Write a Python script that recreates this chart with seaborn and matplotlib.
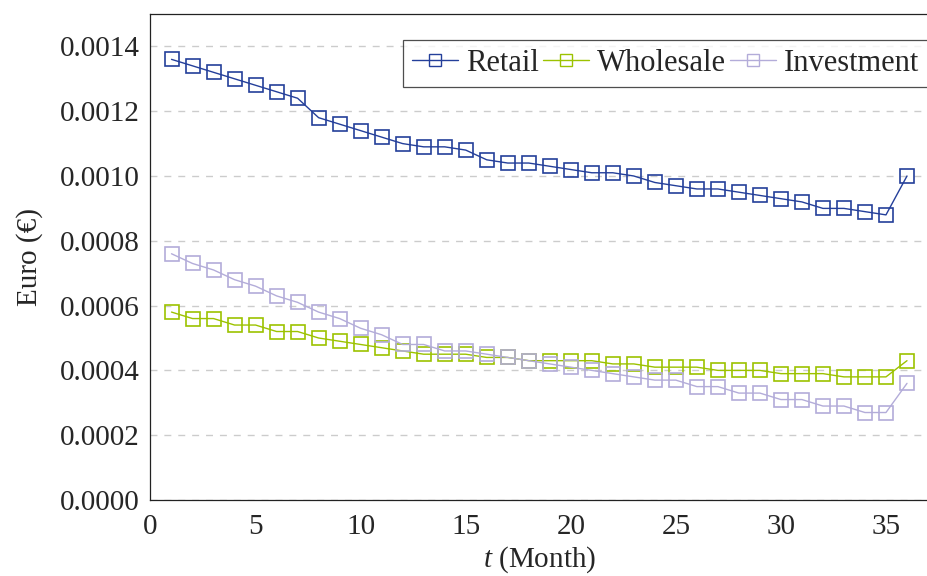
import numpy as np
import pandas as pd
import matplotlib
matplotlib.use("Agg")
import matplotlib.pyplot as plt
import seaborn as sns
from matplotlib.lines import Line2D

months = list(range(1, 37))
retail = [0.00136, 0.00134, 0.00132, 0.00130, 0.00128, 0.00126, 0.00124, 0.00118,
          0.00116, 0.00114, 0.00112, 0.00110, 0.00109, 0.00109, 0.00108, 0.00105,
          0.00104, 0.00104, 0.00103, 0.00102, 0.00101, 0.00101, 0.00100, 0.00098,
          0.00097, 0.00096, 0.00096, 0.00095, 0.00094, 0.00093, 0.00092, 0.00090,
          0.00090, 0.00089, 0.00088, 0.00100]
wholesale = [0.00058, 0.00056, 0.00056, 0.00054, 0.00054, 0.00052, 0.00052, 0.00050,
             0.00049, 0.00048, 0.00047, 0.00046, 0.00045, 0.00045, 0.00045, 0.00044,
             0.00044, 0.00043, 0.00043, 0.00043, 0.00043, 0.00042, 0.00042, 0.00041,
             0.00041, 0.00041, 0.00040, 0.00040, 0.00040, 0.00039, 0.00039, 0.00039,
             0.00038, 0.00038, 0.00038, 0.00043]
investment = [0.00076, 0.00073, 0.00071, 0.00068, 0.00066, 0.00063, 0.00061, 0.00058,
              0.00056, 0.00053, 0.00051, 0.00048, 0.00048, 0.00046, 0.00046, 0.00045,
              0.00044, 0.00043, 0.00042, 0.00041, 0.00040, 0.00039, 0.00038, 0.00037,
              0.00037, 0.00035, 0.00035, 0.00033, 0.00033, 0.00031, 0.00031, 0.00029,
              0.00029, 0.00027, 0.00027, 0.00036]
series_names = ["Retail", "Wholesale", "Investment"]
colors = ["#243f9a", "#9cc200", "#b3acd9"]
x_ticks = [0, 5, 10, 15, 20, 25, 30, 35]
y_ticks = [0.0, 0.0002, 0.0004, 0.0006, 0.0008, 0.0010, 0.0012, 0.0014]

df = pd.DataFrame({"t": months * 3,
                   "value": retail + wholesale + investment,
                   "series": sum([[n] * len(months) for n in series_names], [])})

sns.set_style("white")
plt.rcParams["font.family"] = ["Liberation Serif", "DejaVu Serif"]
plt.rcParams["mathtext.fontset"] = "custom"
plt.rcParams["mathtext.it"] = "Liberation Serif:italic"
plt.rcParams["mathtext.rm"] = "Liberation Serif"

FS = 21

fig = plt.figure(figsize=(9.28, 5.76), dpi=100)
ax = fig.add_axes([150.5 / 928, 1 - 500 / 576, (928 - 150.5) / 928, (500 - 14) / 576])

sns.lineplot(data=df, x="t", y="value", hue="series", hue_order=series_names,
             palette=colors, marker="s", markersize=10, markerfacecolor="none",
             markeredgewidth=1.2, linewidth=1.0, ax=ax, legend=False)
# open squares take the line colour for their edges
for line, c in zip(ax.get_lines(), colors):
    line.set_markeredgecolor(c)

ax.set_xlim(0, 37)
ax.set_ylim(0, 0.0015)
ax.set_xticks(x_ticks)
ax.set_yticks(y_ticks)
ax.set_yticklabels([f"{v:.4f}" for v in y_ticks])
ax.tick_params(axis="both", direction="in", length=7, width=0.6, color="#999999",
               labelsize=FS, pad=8)
ax.tick_params(axis="x", pad=10)
for s in ax.spines.values():
    s.set_color("#222222")
    s.set_linewidth(0.9)
ax.yaxis.grid(True, linestyle=(0, (5, 5)), color="#cccccc", linewidth=1.0)
ax.xaxis.grid(False)
ax.set_axisbelow(True)

ax.set_xlabel(r"$t$ (Month)", fontsize=FS, labelpad=3)
ax.set_ylabel("Euro (€)", fontsize=FS, labelpad=12)

handles = [Line2D([0], [0], color=c, marker="s", markersize=8, markerfacecolor="none",
                  markeredgecolor=c, linewidth=1.0) for c in colors]
leg = ax.legend(handles, series_names, loc="upper right", ncol=3, fontsize=22,
                frameon=True, fancybox=False, edgecolor="#222222", handlelength=1.5,
                handletextpad=0.25, columnspacing=0.15, borderpad=0.3,
                bbox_to_anchor=(1.0, 0.947), borderaxespad=0.0)
leg.get_frame().set_linewidth(0.9)

fig.savefig("out.png", dpi=100)
